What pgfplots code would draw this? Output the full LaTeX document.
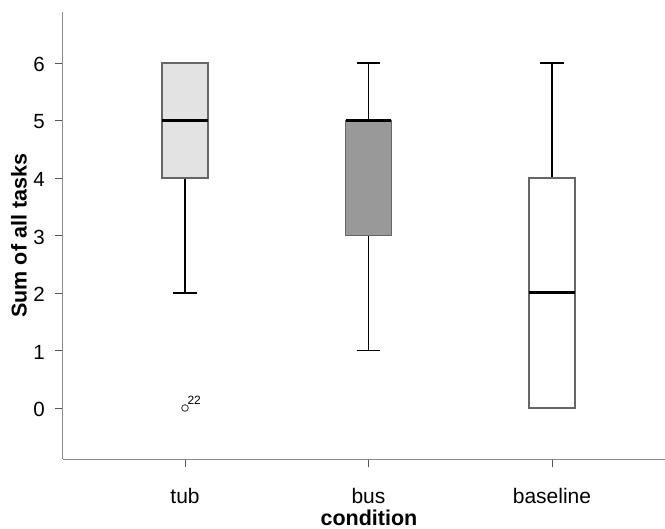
\documentclass[border=0pt]{standalone}
\usepackage{pgfplots}
\pgfplotsset{compat=1.18}
\usepgfplotslibrary{statistics}
\usepackage{fontspec}
\setmainfont{Liberation Sans}
\definecolor{axgray}{HTML}{8A8A8A}
\definecolor{tickgray}{HTML}{555555}
\definecolor{boxedge}{HTML}{666666}
\definecolor{tubfill}{HTML}{E3E3E3}
\definecolor{busfill}{HTML}{999999}
\begin{document}
\begin{tikzpicture}
\useasboundingbox (-63pt,-69.5pt) rectangle (602pt,459.5pt);
\begin{axis}[
  scale only axis, width=602pt, height=447.5pt,
  at={(0pt,0pt)}, anchor=south west,
  xmin=-0.665, xmax=2.616, ymin=-0.896, ymax=6.887,
  axis x line*=bottom, axis y line*=left,
  axis line style={axgray, line width=1pt},
  xtick={0,1,2}, xticklabels={tub,bus,baseline},
  ytick={0,1,2,3,4,5,6},
  tick align=outside, major tick length=8pt,
  tick style={tickgray, line width=0.9pt},
  xticklabel style={anchor=base, yshift=-36.5pt, font=\fontsize{21}{24}\selectfont},
  yticklabel style={anchor=east, inner sep=0pt, xshift=-10pt, yshift=-1.5pt, font=\fontsize{20.5}{24}\selectfont},
  /pgf/number format/assume math mode=true,
  xlabel={\textbf{condition}},
  ylabel={\textbf{Sum of all tasks}},
  xlabel style={at={(axis description cs:0.5,0)}, anchor=base, xshift=5pt, yshift=-66.5pt, inner sep=0pt, font=\fontsize{21.5}{24}\selectfont},
  ylabel style={at={([xshift=-36pt]axis description cs:0,0.5)}, anchor=south, inner sep=0pt, font=\fontsize{21.5}{24}\selectfont},
  boxplot/draw direction=y,
  boxplot/box extend=0.25,
  boxplot/whisker extend=0.13,
  boxplot/every whisker/.style={black, line width=1.5pt},
  boxplot/every median/.style={black, line width=3pt},
  clip=false,
]
\addplot[boxplot prepared={lower whisker=2, lower quartile=4, median=5, upper quartile=6, upper whisker=6, draw position=0},
  draw=boxedge, fill=tubfill, line width=1.4pt] coordinates {};
\addplot[boxplot prepared={lower whisker=1, lower quartile=3, median=5, upper quartile=5, upper whisker=6, draw position=1},
  draw=boxedge, fill=busfill, line width=1.4pt] coordinates {};
\addplot[boxplot prepared={lower whisker=0, lower quartile=0, median=2, upper quartile=4, upper whisker=6, draw position=2},
  draw=boxedge, fill=white, line width=1.4pt] coordinates {};
\addplot[only marks, mark=o, mark size=3.3pt, mark options={draw=tickgray, line width=1pt},
  nodes near coords={22},
  every node near coord/.style={anchor=south west, inner sep=0pt, xshift=2pt, yshift=3pt, font=\fontsize{12}{13}\selectfont, text=black}]
  coordinates {(0,0)};
\end{axis}
\end{tikzpicture}
\end{document}
